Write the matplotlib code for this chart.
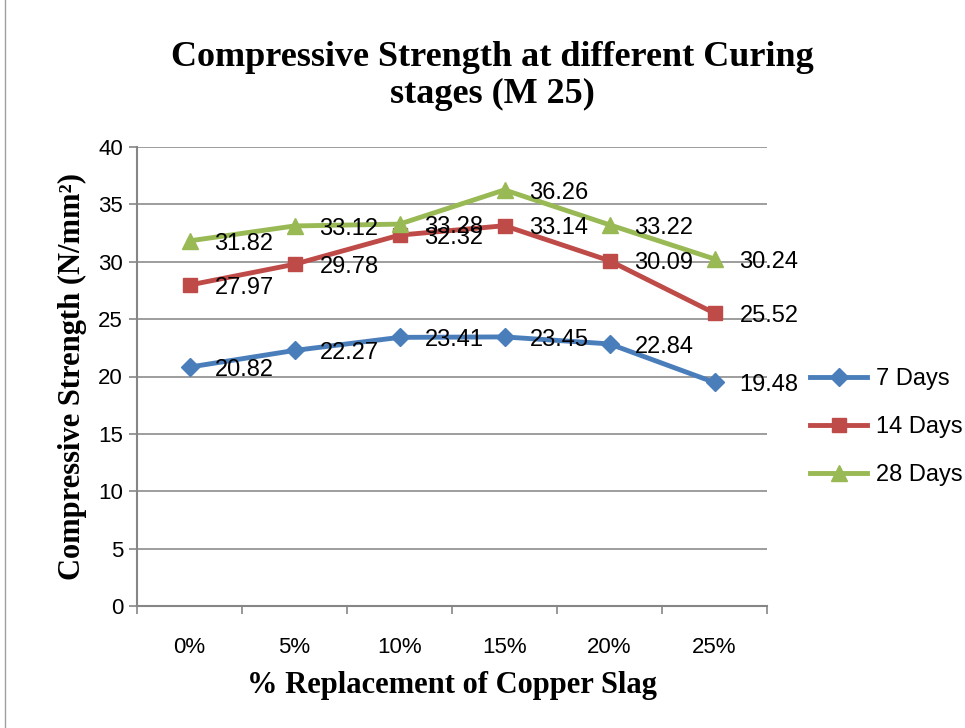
import matplotlib.pyplot as plt
import numpy as np
from matplotlib.patches import Rectangle

categories = ['0%', '5%', '10%', '15%', '20%', '25%']
days7 = [20.82, 22.27, 23.41, 23.45, 22.84, 19.48]
days14 = [27.97, 29.78, 32.32, 33.14, 30.09, 25.52]
days28 = [31.82, 33.12, 33.28, 36.26, 33.22, 30.24]
series_names = ['7 Days', '14 Days', '28 Days']

narrow = ['Liberation Sans Narrow', 'Liberation Sans']

fig = plt.figure(figsize=(9.65, 7.28), dpi=100)
ax = fig.add_axes([137/965, 1 - 606/728, 630/965, 459/728])

# chart frame
fig.patches.append(Rectangle((5/965, -0.5), 2, 2, transform=fig.transFigure,
                             fill=False, edgecolor='#a0a0a0', lw=1))

x = np.arange(len(categories))
styles = [('#4A7EBB', 'D', 9), ('#BE4B48', 's', 10), ('#98B954', '^', 11)]
for vals, name, (c, m, ms) in zip([days7, days14, days28], series_names, styles):
    ax.plot(x, vals, color=c, lw=3.5, marker=m, markersize=ms, label=name, zorder=3)
    for xi, v in zip(x, vals):
        ax.annotate(f'{v:.2f}', (xi, v), xytext=(18, -2), textcoords='offset points',
                    va='center', ha='left', fontsize=17, family='Liberation Sans', zorder=4)

ax.set_xlim(-0.5, 5.5)
ax.set_ylim(0, 40)
ax.set_yticks(np.arange(0, 41, 5))
ax.set_xticks(x)
ax.set_xticklabels(categories)
ax.set_xticks(np.arange(-0.5, 5.6, 1), minor=True)
ax.tick_params(axis='x', which='major', length=0, pad=22, labelsize=16)
ax.tick_params(axis='x', which='minor', length=6, color='#868686', width=1.2)
ax.tick_params(axis='y', length=6, color='#868686', width=1.2, labelsize=16, pad=4)
for lab in ax.get_xticklabels() + ax.get_yticklabels():
    lab.set_family(narrow)
ax.grid(axis='y', color='#8c8c8c', lw=1.2)
ax.set_axisbelow(True)
for s in ['top', 'right']:
    ax.spines[s].set_visible(False)
for s in ['left', 'bottom']:
    ax.spines[s].set_color('#868686')
    ax.spines[s].set_linewidth(1.5)

ax.set_xlabel('% Replacement of Copper Slag', family='Liberation Serif',
              fontweight='bold', fontsize=22, labelpad=10)
ax.set_ylabel('Compressive Strength (N/mm²)', family='Liberation Serif',
              fontweight='bold', fontsize=22, labelpad=8)
fig.text(492/965, 1 - 76/728, 'Compressive Strength at different Curing\nstages (M 25)',
         ha='center', va='center', family='Liberation Serif', fontweight='bold',
         fontsize=26, linespacing=1.15)

leg = ax.legend(loc='center left', bbox_to_anchor=(1.035, 0.39), frameon=False,
                prop={'family': 'Liberation Sans', 'size': 17}, handlelength=2.4,
                handletextpad=0.4, labelspacing=1.1)

fig.savefig('out.png', dpi=100)
